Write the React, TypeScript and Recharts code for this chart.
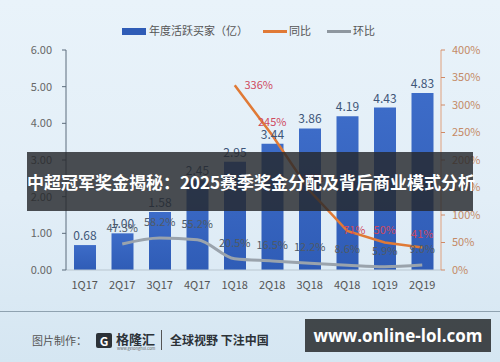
import React from 'react';
import { ComposedChart, Bar, Line, XAxis, YAxis, LabelList } from 'recharts';

const categories = ['1Q17', '2Q17', '3Q17', '4Q17', '1Q18', '2Q18', '3Q18', '4Q18', '1Q19', '2Q19'];
const buyers = [0.68, 1.0, 1.58, 2.45, 2.95, 3.44, 3.86, 4.19, 4.43, 4.83];
const yoy: (number | null)[] = [null, null, null, null, 336, 245, 144, 71, 50, 41];
const qoq: (number | null)[] = [null, 47.3, 58.2, 55.2, 20.5, 16.5, 12.2, 8.6, 5.9, 9.0];
const leftTicks = [0, 1, 2, 3, 4, 5, 6];
const rightTicks = [0, 50, 100, 150, 200, 250, 300, 350, 400];

const data = categories.map((c, i) => ({ cat: c, buyers: buyers[i], yoy: yoy[i], qoq: qoq[i] }));

const FONT = '"Noto Sans CJK SC", "Noto Sans", sans-serif';

const yoyLabel = (props: any) => {
  const { x, y, value, index } = props;
  if (value == null) return null;
  let dx = 0;
  let dy = -9;
  if (index === 4) { dx = 24; dy = 4; }
  if (index === 7) { dx = 7; dy = 3; }
  return (
    <text x={x + dx} y={y + dy} textAnchor="middle" fill="#cf4a5e" fontSize={11} fontFamily={FONT}>
      {value + '%'}
    </text>
  );
};

export default function App() {
  return (
    <div
      style={{
        position: 'fixed',
        left: 0,
        top: 0,
        width: 500,
        height: 362,
        overflow: 'hidden',
        background: 'linear-gradient(180deg, #e9f3fa 0%, #e2eef7 55%, #d5e6f2 100%)',
        fontFamily: FONT,
      }}
    >
      <ComposedChart width={500} height={362} data={data} margin={{ top: 50, right: 0, bottom: 62, left: 0 }}>
        <defs>
          <linearGradient id="barGrad" x1="0" y1="0" x2="0" y2="1">
            <stop offset="0%" stopColor="#3d6cc8" />
            <stop offset="100%" stopColor="#2f5cb6" />
          </linearGradient>
        </defs>
        <XAxis
          dataKey="cat"
          height={30}
          tickLine={false}
          axisLine={{ stroke: '#b9c6d0' }}
          tickMargin={5}
          tick={{ fontSize: 11, fill: '#555', fontFamily: FONT }}
          interval={0}
        />
        <YAxis
          yAxisId="left"
          width={66}
          domain={[0, 6]}
          ticks={leftTicks}
          tickFormatter={(v: number) => v.toFixed(2)}
          axisLine={{ stroke: '#5d6d7c' }}
          tickLine={{ stroke: '#5d6d7c' }}
          tickSize={4}
          tickMargin={10}
          tick={{ fontSize: 11, fill: '#666', fontFamily: FONT }}
        />
        <YAxis
          yAxisId="right"
          orientation="right"
          width={59}
          domain={[0, 400]}
          ticks={rightTicks}
          tickFormatter={(v: number) => v + '%'}
          axisLine={{ stroke: '#e0a07c' }}
          tickLine={{ stroke: '#d08a66' }}
          tickSize={4}
          tickMargin={7}
          tick={{ fontSize: 11, fill: '#c48a66', fontFamily: FONT }}
        />
        <Bar yAxisId="left" dataKey="buyers" barSize={22} fill="url(#barGrad)" isAnimationActive={false}>
          <LabelList
            dataKey="buyers"
            position="top"
            offset={5}
            fill="#3e5678"
            fontSize={12}
            fontFamily={FONT}
            formatter={(v: any) => Number(v).toFixed(2)}
          />
        </Bar>
        <Line
          yAxisId="right"
          type="monotone"
          dataKey="qoq"
          stroke="#9aa3ac"
          strokeWidth={3}
          dot={false}
          isAnimationActive={false}
        >
          <LabelList
            dataKey="qoq"
            position="top"
            offset={12}
            fill="#4f5a66"
            fontSize={11}
            fontFamily={FONT}
            formatter={(v: any) => (v == null ? '' : Number(v).toFixed(1) + '%')}
          />
        </Line>
        <Line
          yAxisId="right"
          type="linear"
          dataKey="yoy"
          stroke="#e07a36"
          strokeWidth={2.5}
          dot={false}
          isAnimationActive={false}
        >
          <LabelList dataKey="yoy" content={yoyLabel} />
        </Line>
      </ComposedChart>

      {/* Legend */}
      <div style={{ position: 'absolute', left: 122, top: 28, width: 24, height: 7, background: '#2f5cb6' }} />
      <div style={{ position: 'absolute', left: 149, top: 22, fontSize: 11, lineHeight: '16px', color: '#555', whiteSpace: 'nowrap' }}>
        年度活跃买家（亿）
      </div>
      <div style={{ position: 'absolute', left: 263, top: 30, width: 24, height: 3, background: '#e07a36' }} />
      <div style={{ position: 'absolute', left: 289, top: 22, fontSize: 11, lineHeight: '16px', color: '#555', whiteSpace: 'nowrap' }}>
        同比
      </div>
      <div style={{ position: 'absolute', left: 327, top: 30, width: 24, height: 3, background: '#8e979f' }} />
      <div style={{ position: 'absolute', left: 353, top: 22, fontSize: 11, lineHeight: '16px', color: '#555', whiteSpace: 'nowrap' }}>
        环比
      </div>

      {/* Banner */}
      <div
        style={{
          position: 'absolute',
          left: 27,
          top: 152,
          width: 446,
          height: 59,
          background: 'rgba(38,40,44,0.82)',
          color: '#fff',
          fontWeight: 700,
          fontSize: 17,
          lineHeight: '59px',
          textAlign: 'center',
          whiteSpace: 'nowrap',
        }}
      >
        中超冠军奖金揭秘：2025赛季奖金分配及背后商业模式分析
      </div>

      {/* Footer */}
      <div style={{ position: 'absolute', left: 0, top: 311, width: 500, height: 1, background: '#8fa2b0' }} />
      <div style={{ position: 'absolute', left: 32, top: 332, fontSize: 11, lineHeight: '16px', color: '#555', whiteSpace: 'nowrap' }}>
        图片制作：
      </div>
      <div
        style={{
          position: 'absolute',
          left: 96,
          top: 333,
          width: 16,
          height: 15,
          background: '#2c3238',
          color: '#fff',
          fontSize: 12,
          fontWeight: 700,
          lineHeight: '15px',
          textAlign: 'center',
          borderRadius: 2,
        }}
      >
        G
      </div>
      <div style={{ position: 'absolute', left: 116, top: 330, fontSize: 13, lineHeight: '17px', fontWeight: 700, color: '#2c3238', whiteSpace: 'nowrap' }}>
        格隆汇
      </div>
      <div style={{ position: 'absolute', left: 117, top: 346, fontSize: 4, lineHeight: '5px', color: '#666', whiteSpace: 'nowrap' }}>
        www.gelonghui.com
      </div>
      <div style={{ position: 'absolute', left: 161, top: 330, width: 1, height: 20, background: '#555' }} />
      <div style={{ position: 'absolute', left: 170, top: 331, fontSize: 12, lineHeight: '17px', fontWeight: 700, color: '#2c3238', whiteSpace: 'nowrap' }}>
        全球视野 下注中国
      </div>
      <div
        style={{
          position: 'absolute',
          left: 305,
          top: 319,
          width: 186,
          height: 33,
          background: 'rgba(52,56,60,0.92)',
          color: '#fff',
          fontWeight: 700,
          fontSize: 17,
          lineHeight: '33px',
          textAlign: 'center',
          whiteSpace: 'nowrap',
          fontFamily: '"Open Sans", "Noto Sans", sans-serif',
        }}
      >
        www.online-lol.com
      </div>
    </div>
  );
}
